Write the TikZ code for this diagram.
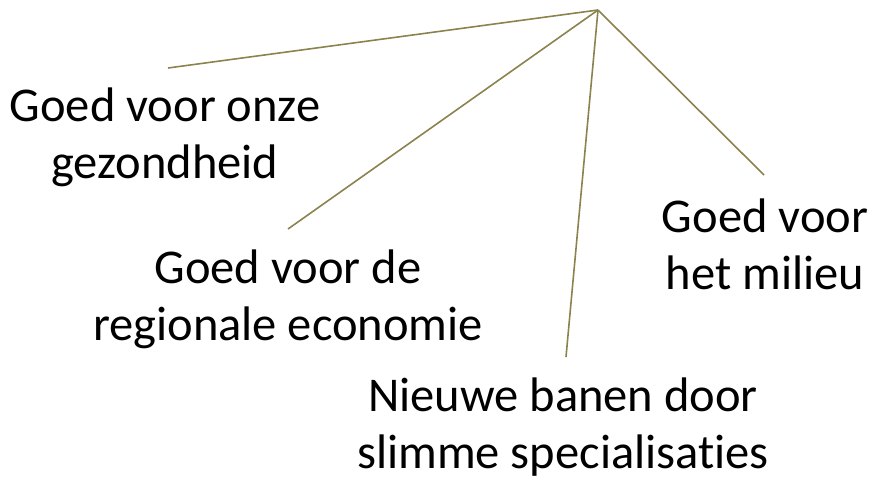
\documentclass[tikz,border=0pt]{standalone}
\usepackage{fontspec}
\setmainfont[Ligatures=NoCommon]{Carlito}
\definecolor{spoke}{RGB}{140,130,78}

\begin{document}
\begin{tikzpicture}[x=1pt,y=-1pt,
    benefit/.style ={align=center, font=\fontsize{48.5}{57}\selectfont, inner sep=0pt},
    spokeline/.style ={draw=spoke, line width=1.6pt}]
   \useasboundingbox (0,0) rectangle (871,482);
   \coordinate (hub) at (598,10);
   \coordinate (E1) at (168,68);
   \coordinate (E2) at (288,229);
   \coordinate (E3) at (566,357);
   \coordinate (E4) at (764,175);
   \node[benefit] (health) at (165,137) {Goed voor onze\\gezondheid};
   \node[benefit] (economy) at (288,299) {Goed voor de\\regionale economie};
   \node[benefit] (jobs) at (563,427) {Nieuwe banen door\\slimme specialisaties};
   \node[benefit] (environment) at (765,244) {Goed voor\\het milieu};
   \draw[spokeline] (hub) to (E1);
   \draw[spokeline] (hub) to (E2);
   \draw[spokeline] (hub) to (E3);
   \draw[spokeline] (hub) to (E4);
 \end{tikzpicture}
\end{document}
